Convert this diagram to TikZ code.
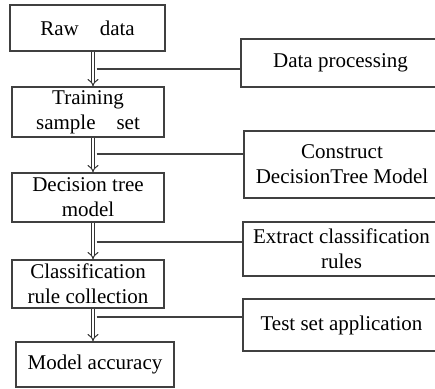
\documentclass[tikz,border=0pt]{standalone}
\usepackage{fontspec}
\setmainfont{Liberation Serif}
\usetikzlibrary{arrows.meta}
\begin{document}
\begin{tikzpicture}[x=1pt,y=-1pt,
  box/.style={draw=black!75,line width=1.2pt,align=center,inner sep=0pt,
    font=\fontsize{21}{25}\selectfont,text=black},
  dbl/.style={draw=black!80,double,double distance=2.8pt,line width=1pt,
    -{Implies[length=3.5pt]}},
  link/.style={draw=black!75,line width=1.1pt}]
\useasboundingbox (0,0) rectangle (435,388);
\clip (0,0) rectangle (435,388);
% left column
\node[box,minimum width=155,minimum height=46] (raw) at (87.5,28) {Raw\quad data};
\node[box,minimum width=152,minimum height=50] (train) at (88,112) {Training\\sample\quad set};
\node[box,minimum width=152,minimum height=49] (dec) at (88,197.5) {Decision tree\\model};
\node[box,minimum width=152,minimum height=48] (cls) at (88,284) {Classification\\rule collection};
\node[box,minimum width=158,minimum height=45] (acc) at (95,364.5) {Model accuracy};
% right column
\node[box,minimum width=199,minimum height=48] (dp) at (340.5,63) {Data processing};
\node[box,minimum width=196,minimum height=67] (con) at (342,164.5) {Construct\\DecisionTree Model};
\node[box,minimum width=197,minimum height=54] (ext) at (341.5,249) {Extract classification\\rules};
\node[box,minimum width=197,minimum height=52] (tst) at (341.5,325) {Test set application};
% double arrows
\coordinate (ax) at (93,0);
\draw[dbl] (raw.south -| ax) -- (train.north -| ax);
\draw[dbl] (train.south -| ax) -- (dec.north -| ax);
\draw[dbl] (dec.south -| ax) -- (cls.north -| ax);
\draw[dbl] (cls.south -| ax) -- (acc.north -| ax);
% side links
\coordinate (lx) at (96.5,0);
\draw[link] (lx |- 0,69) -- (dp.west |- 0,69);
\draw[link] (lx |- 0,154) -- (con.west |- 0,154);
\draw[link] (lx |- 0,242) -- (ext.west |- 0,242);
\draw[link] (lx |- 0,317) -- (tst.west |- 0,317);
\end{tikzpicture}
\end{document}
